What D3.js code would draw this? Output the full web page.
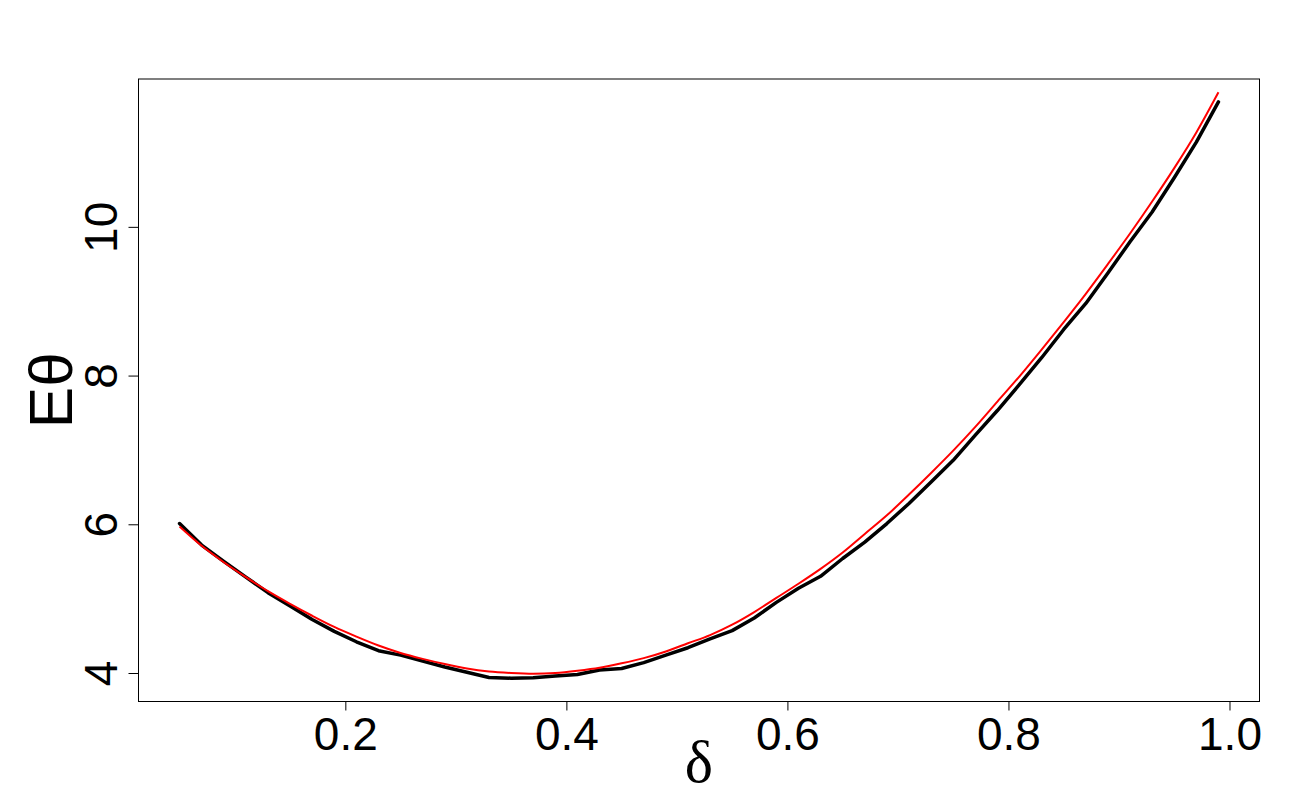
<!DOCTYPE html>
<html>
<head>
<meta charset="utf-8">
<script src="https://cdn.jsdelivr.net/npm/d3@7"></script>
<style>
  html, body { margin: 0; padding: 0; background: #fff; }
  svg { display: block; }
  text { font-family: "Liberation Sans", Arial, sans-serif; fill: #000; }
</style>
</head>
<body>
<svg id="chart" width="1300" height="800"></svg>
<script>
// ---- data ----
const deltaValues = [0.05,0.07,0.09,0.11,0.13,0.15,0.17,0.19,0.21,0.23,0.25,0.27,0.29,0.31,0.33,0.35,0.37,0.39,0.41,0.43,0.45,0.47,0.49,0.51,0.53,0.55,0.57,0.59,0.61,0.63,0.65,0.67,0.69,0.71,0.73,0.75,0.77,0.79,0.81,0.83,0.85,0.87,0.89,0.91,0.93,0.95,0.97,0.99];
const simulated = [6.01,5.72,5.50,5.29,5.08,4.90,4.72,4.56,4.42,4.30,4.24,4.16,4.08,4.01,3.94,3.93,3.935,3.96,3.98,4.04,4.06,4.14,4.24,4.34,4.46,4.57,4.74,4.95,5.14,5.30,5.54,5.76,6.01,6.28,6.57,6.86,7.20,7.53,7.88,8.24,8.62,8.97,9.38,9.80,10.20,10.66,11.14,11.68];
const theoretical = [5.97,5.71,5.49,5.29,5.10,4.93,4.77,4.62,4.49,4.37,4.27,4.19,4.12,4.06,4.02,4.00,3.99,4.00,4.03,4.07,4.13,4.20,4.29,4.40,4.51,4.65,4.82,5.01,5.20,5.40,5.62,5.87,6.12,6.40,6.69,6.99,7.31,7.65,7.99,8.35,8.72,9.10,9.50,9.91,10.34,10.79,11.27,11.81];
const xTicks = [0.2, 0.4, 0.6, 0.8, 1.0];
const yTicks = [4, 6, 8, 10];
const xLabel = "δ";
const yLabel = "Eθ";

// ---- layout ----
const frame = { left: 138, right: 1260, top: 78.5, bottom: 702 };
const xDomain = [0.0124, 1.0276];
const yDomain = [3.61, 11.995];

const svg = d3.select("#chart");
const x = d3.scaleLinear().domain(xDomain).range([frame.left, frame.right]);
const y = d3.scaleLinear().domain(yDomain).range([frame.bottom, frame.top]);

// frame box
svg.append("rect")
  .attr("x", frame.left + 0.5).attr("y", frame.top + 0.5)
  .attr("width", frame.right - frame.left - 1).attr("height", frame.bottom - frame.top - 1)
  .attr("fill", "none").attr("stroke", "#000").attr("stroke-width", 1);

// x axis
const xAxis = d3.axisBottom(x).tickValues(xTicks).tickSize(9).tickPadding(7)
  .tickFormat(d3.format(".1f"));
const gx = svg.append("g").attr("transform", `translate(0,${frame.bottom - 0.5})`).call(xAxis);
gx.select(".domain").remove();
gx.selectAll("line").attr("stroke", "#000");
gx.selectAll("text").style("font-size", "46px").attr("fill", "#000");

// y axis (rotated labels, R style)
const yAxis = d3.axisLeft(y).tickValues(yTicks).tickSize(10).tickFormat(d3.format("d"));
const gy = svg.append("g").attr("transform", `translate(${frame.left + 0.5},0)`).call(yAxis);
gy.select(".domain").remove();
gy.selectAll("line").attr("stroke", "#000");
gy.selectAll("text")
  .style("font-size", "46px")
  .attr("x", null).attr("dy", null)
  .attr("text-anchor", "middle")
  .attr("transform", "translate(-22,0) rotate(-90)")
  .attr("y", 0)
  .attr("fill", "#000");

// axis titles
svg.append("text")
  .attr("x", (frame.left + frame.right) / 2).attr("y", 782)
  .attr("text-anchor", "middle")
  .style("font-family", "'Liberation Serif', 'DejaVu Serif', serif")
  .style("font-size", "60px")
  .text(xLabel);

svg.append("text")
  .attr("transform", `translate(72,${(frame.top + frame.bottom) / 2}) rotate(-90)`)
  .attr("text-anchor", "middle")
  .style("font-size", "62px")
  .text(yLabel);

// lines
const pts = (ys) => deltaValues.map((d, i) => [d, ys[i]]);
const lineLinear = d3.line().x(d => x(d[0])).y(d => y(d[1]));
const lineSmooth = d3.line().x(d => x(d[0])).y(d => y(d[1])).curve(d3.curveMonotoneX);

svg.append("path")
  .attr("d", lineLinear(pts(simulated)))
  .attr("fill", "none").attr("stroke", "#000").attr("stroke-width", 3.5)
  .attr("stroke-linejoin", "round").attr("stroke-linecap", "round");

svg.append("path")
  .attr("d", lineSmooth(pts(theoretical)))
  .attr("fill", "none").attr("stroke", "#ff0000").attr("stroke-width", 2)
  .attr("stroke-linejoin", "round");
</script>
</body>
</html>
